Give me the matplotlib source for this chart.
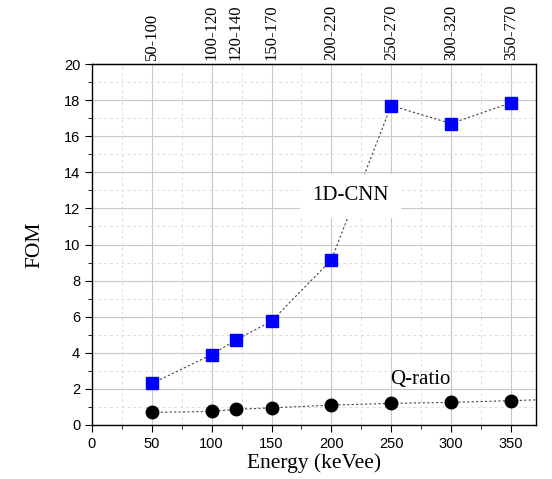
import matplotlib
matplotlib.use('Agg')
import matplotlib.pyplot as plt
from matplotlib.ticker import MultipleLocator

# energy bins (keVee)
energy = [50, 100, 120, 150, 200, 250, 300, 350]
bin_labels = ['50-100', '100-120', '120-140', '150-170', '200-220', '250-270', '300-320', '350-770']
fom_cnn = [2.3, 3.9, 4.7, 5.75, 9.15, 17.7, 16.7, 17.85]
fom_q = [0.7, 0.75, 0.87, 0.95, 1.1, 1.2, 1.25, 1.35]
# the dotted Q-ratio line runs on past the last point
q_tail_x = [350, 400]
q_tail_y = [1.35, 1.45]

fig = plt.figure(figsize=(5.52, 4.79), dpi=100)
ax = fig.add_axes([92/552, 1 - 425/479, 444/552, 361/479])

ax.plot(energy, fom_cnn, ls=(0, (2, 2)), color='#444444', lw=0.8, zorder=2)
ax.plot(energy, fom_cnn, ls='none', marker='s', ms=8.5, color='#0000ff', zorder=3)
ax.plot(energy, fom_q, ls=(0, (2, 2)), color='#444444', lw=0.8, zorder=2)
ax.plot(q_tail_x, q_tail_y, ls=(0, (2, 2)), color='#444444', lw=0.8, zorder=2)
ax.plot(energy, fom_q, ls='none', marker='o', ms=9, color='black', zorder=3)

ax.set_xlim(0, 371)
ax.set_ylim(0, 20)
ax.xaxis.set_major_locator(MultipleLocator(50))
ax.xaxis.set_minor_locator(MultipleLocator(25))
ax.yaxis.set_major_locator(MultipleLocator(2))
ax.yaxis.set_minor_locator(MultipleLocator(1))
ax.grid(which='major', color='#c8c8c8', lw=0.8, ls='-')
ax.grid(which='minor', color='#dddddd', lw=0.7, ls=(0, (3, 3)))
ax.set_axisbelow(True)

ax.tick_params(which='both', direction='out', top=False, right=False,
               labelsize=10.5, labelfontfamily='Liberation Sans')
ax.tick_params(which='major', length=5)
ax.tick_params(which='minor', length=3)

for s in ax.spines.values():
    s.set_linewidth(1.0)

serif = 'Liberation Serif'
ax.set_xlabel('Energy (keVee)', fontsize=15.5, family=serif, labelpad=2)
ax.set_ylabel('FOM', fontsize=15.5, family=serif, labelpad=14)

top = ax.secondary_xaxis('top')
top.set_xticks(energy)
top.set_xticklabels(bin_labels, rotation=90, fontsize=12, family=serif)
top.tick_params(length=0, pad=3)

ax.text(216, 12.7, '1D-CNN', fontsize=15, family=serif, ha='center', va='center',
        bbox=dict(facecolor='white', edgecolor='none', pad=9), zorder=2.5)
ax.text(274, 2.5, 'Q-ratio', fontsize=15, family=serif, ha='center', va='center', zorder=2.5)

fig.savefig('out.png', dpi=100)
